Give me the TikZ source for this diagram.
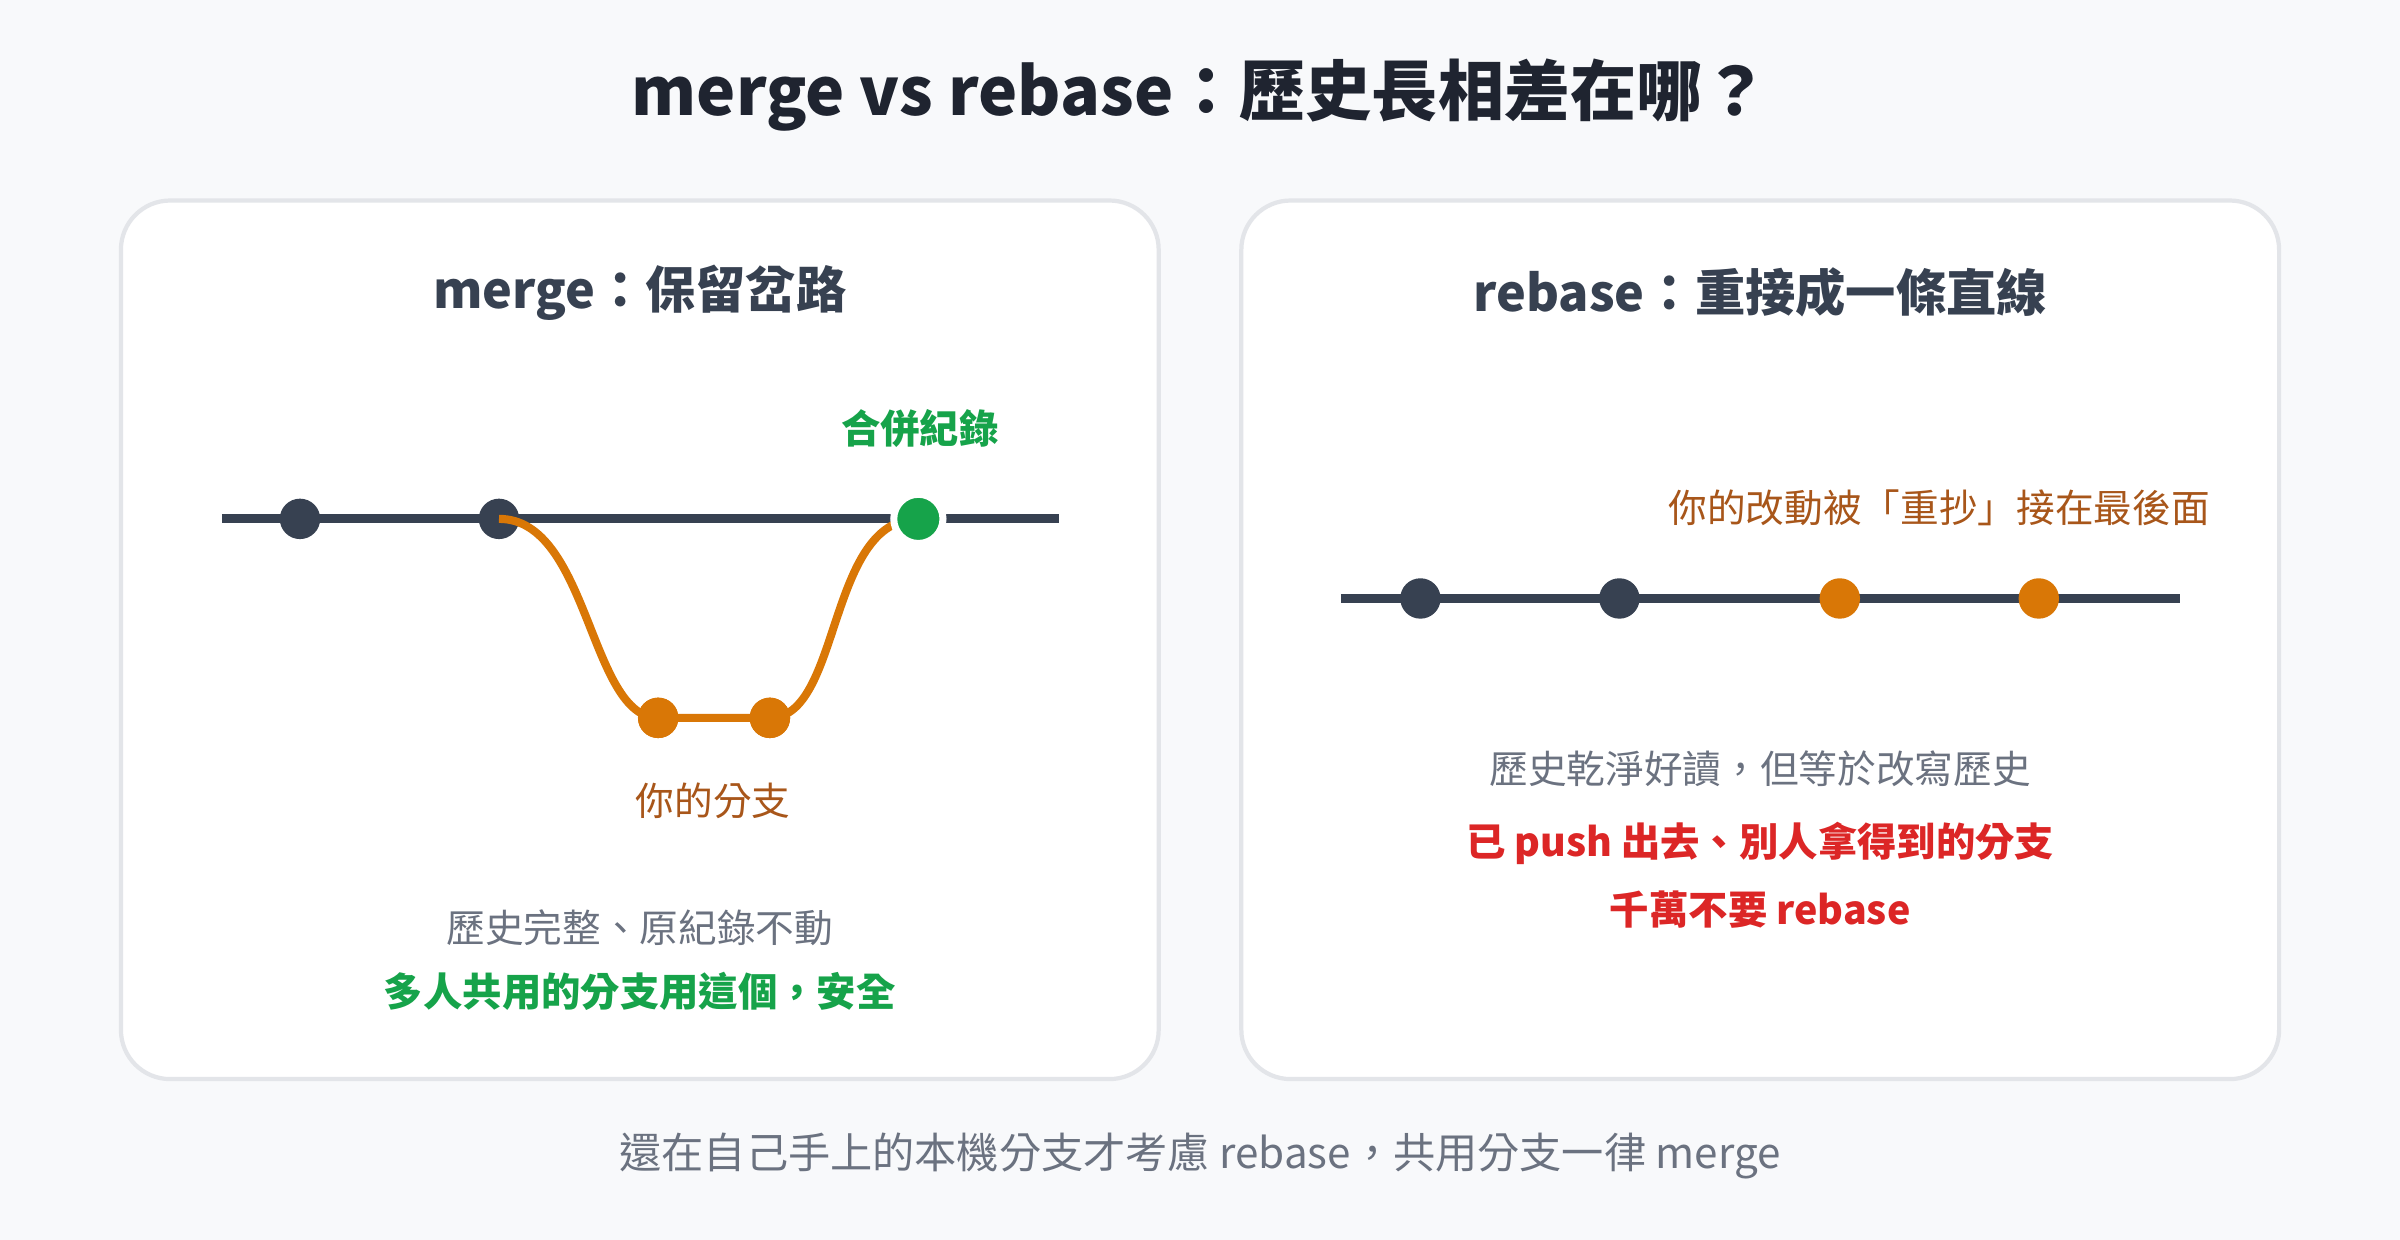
\documentclass[tikz,border=0pt]{standalone}
\usepackage{fontspec}
\setmainfont{Noto Sans CJK TC}
\usetikzlibrary{positioning}
\definecolor{bgc}{HTML}{F8F9FB}
\definecolor{ink}{HTML}{1F2430}
\definecolor{slate}{HTML}{374151}
\definecolor{muted}{HTML}{6B7280}
\definecolor{frame}{HTML}{E3E5E9}
\definecolor{okgreen}{HTML}{16A34A}
\definecolor{amber}{HTML}{D97706}
\definecolor{brownish}{HTML}{A8561A}
\definecolor{alert}{HTML}{DC2626}
\tikzset{
  panel/.style={draw=frame, fill=white, line width=1.2pt, rounded corners=14pt},
  track/.style={draw=slate, line width=2.6pt},
  branch/.style={draw=amber, line width=2.3pt},
  commit/.style={circle, fill=slate, inner sep=0pt, minimum size=11.5pt},
  mine/.style={commit, fill=amber},
  mergept/.style={circle, fill=okgreen, draw=white, line width=2pt, inner sep=0pt, minimum size=14pt},
  subttl/.style={font=\fontsize{14.3}{16}\selectfont\bfseries, text=slate},
  note/.style={font=\fontsize{11}{13}\selectfont, text=muted},
  strong/.style={font=\fontsize{11.2}{13}\selectfont\bfseries},
}
\begin{document}
\begin{tikzpicture}[x=0.015306cm, y=-0.015306cm]
  \fill[bgc] (0,0) rectangle (1568,810);
  \node[font=\fontsize{18.8}{22}\selectfont\bfseries, text=ink] (title) at (784,62) {merge vs rebase：歷史長相差在哪？};

  % left panel
  \draw[panel] (79,131) rectangle (757,705);
  \node[subttl] (lt) at (418,191) {merge：保留岔路};
  \coordinate (l0) at (145,339);
  \coordinate (l1) at (692,339);
  \draw[track] (l0) -- (l1);
  \node[commit] (m1) at (196,339) {};
  \node[commit] (m2) at (326,339) {};
  \node[mine] (o1) at (430,469) {};
  \node[mine] (o2) at (503,469) {};
  \draw[branch] (m2.center) .. controls (385,339) and (385,469) .. (o1.center) -- (o2.center)
    .. controls (550,469) and (540,339) .. (600,339);
  \node[mine] at (o1) {};
  \node[mine] at (o2) {};
  \node[mergept] (mg) at (600,339) {};
  \node[strong, text=okgreen] (mgl) at (601,280) {合併紀錄};
  \node[note, text=brownish] (brl) at (466,523) {你的分支};
  \node[note] (ln1) at (418,606) {歷史完整、原紀錄不動};
  \node[strong, text=okgreen] (ln2) at (418,648) {多人共用的分支用這個，安全};

  % right panel
  \draw[panel] (811,131) rectangle (1489,705);
  \node[subttl] (rt) at (1150,191) {rebase：重接成一條直線};
  \coordinate (r0) at (876,391);
  \coordinate (r1) at (1424,391);
  \draw[track] (r0) -- (r1);
  \node[commit] (r2) at (928,391) {};
  \node[commit] (r3) at (1058,391) {};
  \node[mine] (r4) at (1202,391) {};
  \node[mine] (r5) at (1332,391) {};
  \node[note, text=brownish] (rnl) at (1267,332) {你的改動被「重抄」接在最後面};
  \node[note] (rn1) at (1150,502) {歷史乾淨好讀，但等於改寫歷史};
  \node[strong, text=alert] (rn2) at (1150,551) {已 push 出去、別人拿得到的分支};
  \node[strong, text=alert] (rn3) at (1150,594) {千萬不要 rebase};

  \node[font=\fontsize{12}{14}\selectfont, text=muted] (foot) at (784,755) {還在自己手上的本機分支才考慮 rebase，共用分支一律 merge};
\end{tikzpicture}
\end{document}
